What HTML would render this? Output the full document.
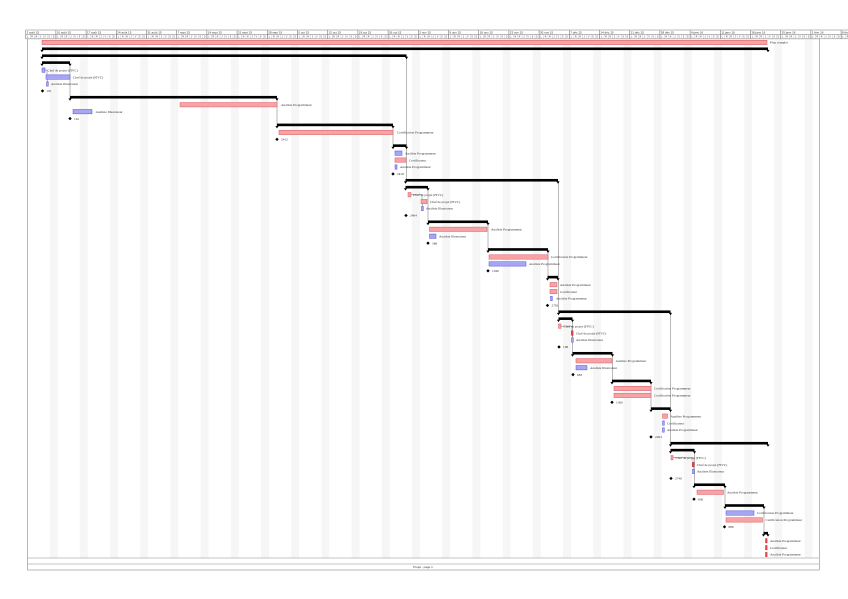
<!DOCTYPE html>
<html><head><meta charset="utf-8"><style>
html,body{margin:0;padding:0;background:#fff;width:848px;height:599px;overflow:hidden}
svg{display:block}
.p{fill:#f7a3a6;stroke:#d85a62;stroke-width:.5}
.b{fill:#a6a6f4;stroke:#5454d6;stroke-width:.5}
.r{fill:#e8474b;stroke:#c02020;stroke-width:.4}
.s{fill:#000}
.t{font-family:"Liberation Serif",serif;font-size:3.4px;fill:#333}
.h{font-family:"Liberation Sans",sans-serif;font-size:3px;fill:#333}
.d{font-family:"Liberation Mono",monospace;font-size:2.5px;fill:#444;letter-spacing:2.81px}
.dep{stroke:#8a8a8a;stroke-width:.6;fill:none}
</style></head><body>
<svg width="848" height="599" viewBox="0 0 848 599" xmlns="http://www.w3.org/2000/svg">
<defs>
<path id="tr" d="M-1.6,0.5 L1.6,0.5 L0,2.9 Z" fill="#000"/>
<path id="dm" d="M0,-1.7 L1.7,0 L0,1.7 L-1.7,0 Z" fill="#000"/>
<pattern id="we" x="49.6" y="0" width="30.2" height="20" patternUnits="userSpaceOnUse"><rect x="0" y="0" width="8" height="20" fill="#f6f6f6"/></pattern>
<pattern id="dt" x="25.7" y="0" width="4.3143" height="20" patternUnits="userSpaceOnUse"><rect x="0" y="0" width="0.35" height="20" fill="#aaa"/></pattern>
</defs>
<rect width="848" height="599" fill="#fff"/>
<!-- header -->
<rect x="25.7" y="30" width="830" height="8.8" fill="#fff"/>
<rect x="25.7" y="34.4" width="830" height="4.3" fill="url(#dt)"/>
<path d="M25.7,30 H848 M25.7,34.4 H848 M25.7,38.8 H848" stroke="#777" stroke-width=".5"/>
<path stroke="#666" stroke-width=".5" d="M25.7,30V38.8 M55.9,30V38.8 M86.1,30V38.8 M116.3,30V38.8 M146.5,30V38.8 M176.7,30V38.8 M206.9,30V38.8 M237.1,30V38.8 M267.3,30V38.8 M297.5,30V38.8 M327.7,30V38.8 M357.9,30V38.8 M388.1,30V38.8 M418.3,30V38.8 M448.5,30V38.8 M478.7,30V38.8 M508.9,30V38.8 M539.1,30V38.8 M569.3,30V38.8 M599.5,30V38.8 M629.7,30V38.8 M659.9,30V38.8 M690.1,30V38.8 M720.3,30V38.8 M750.5,30V38.8 M780.7,30V38.8 M810.9,30V38.8 M841.1,30V38.8"/>
<g class="h">
<text x="26.6" y="33.3">3 août 15</text><text x="56.8" y="33.3">10 août 15</text><text x="87" y="33.3">17 août 15</text><text x="117.2" y="33.3">24 août 15</text><text x="147.4" y="33.3">31 août 15</text><text x="177.6" y="33.3">7 sept 15</text><text x="207.8" y="33.3">14 sept 15</text><text x="238" y="33.3">21 sept 15</text><text x="268.2" y="33.3">28 sept 15</text><text x="298.4" y="33.3">5 oct 15</text><text x="328.6" y="33.3">12 oct 15</text><text x="358.8" y="33.3">19 oct 15</text><text x="389" y="33.3">26 oct 15</text><text x="419.2" y="33.3">2 nov 15</text><text x="449.4" y="33.3">9 nov 15</text><text x="479.6" y="33.3">16 nov 15</text><text x="509.8" y="33.3">23 nov 15</text><text x="540" y="33.3">30 nov 15</text><text x="570.2" y="33.3">7 déc 15</text><text x="600.4" y="33.3">14 déc 15</text><text x="630.6" y="33.3">21 déc 15</text><text x="660.8" y="33.3">28 déc 15</text><text x="691" y="33.3">4 janv 16</text><text x="721.2" y="33.3">11 janv 16</text><text x="751.4" y="33.3">18 janv 16</text><text x="781.6" y="33.3">25 janv 16</text><text x="811.8" y="33.3">1 févr 16</text><text x="842" y="33.3">8 févr 16</text>
</g>
<g class="d">
<text x="27" y="37.7">LMMJVSD</text><text x="57.2" y="37.7">LMMJVSD</text><text x="87.4" y="37.7">LMMJVSD</text><text x="117.6" y="37.7">LMMJVSD</text><text x="147.8" y="37.7">LMMJVSD</text><text x="178" y="37.7">LMMJVSD</text><text x="208.2" y="37.7">LMMJVSD</text><text x="238.4" y="37.7">LMMJVSD</text><text x="268.6" y="37.7">LMMJVSD</text><text x="298.8" y="37.7">LMMJVSD</text><text x="329" y="37.7">LMMJVSD</text><text x="359.2" y="37.7">LMMJVSD</text><text x="389.4" y="37.7">LMMJVSD</text><text x="419.6" y="37.7">LMMJVSD</text><text x="449.8" y="37.7">LMMJVSD</text><text x="480" y="37.7">LMMJVSD</text><text x="510.2" y="37.7">LMMJVSD</text><text x="540.4" y="37.7">LMMJVSD</text><text x="570.6" y="37.7">LMMJVSD</text><text x="600.8" y="37.7">LMMJVSD</text><text x="631" y="37.7">LMMJVSD</text><text x="661.2" y="37.7">LMMJVSD</text><text x="691.4" y="37.7">LMMJVSD</text><text x="721.6" y="37.7">LMMJVSD</text><text x="751.8" y="37.7">LMMJVSD</text><text x="782" y="37.7">LMMJVSD</text><text x="812.2" y="37.7">LMMJVSD</text><text x="842.4" y="37.7">LMMJVSD</text>
</g>
<!-- body -->
<rect x="27.5" y="38.8" width="791.8" height="519.2" fill="url(#we)"/>
<rect x="27.5" y="38.8" width="791.8" height="531.2" fill="none" stroke="#8a8a8a" stroke-width=".6"/>
<path d="M27.5,558 H819.3 M27.5,564 H819.3" stroke="#8a8a8a" stroke-width=".6"/>
<text class="h" x="423" y="568.2" text-anchor="middle">Projet - page 1</text>
<!-- dependency lines -->
<path class="dep" d="M70,63.2V97.8 M277,97.8V125.5 M393,125.5V146.3 M406.5,56.3V180.9 M428,187.8V222.4 M488,222.4V250.1 M548,250.1V277.7 M558.5,180.9V312.3 M572.5,319.3V353.9 M612.5,353.9V381.5 M651,381.5V409.2 M670.5,312.3V443.8 M694.5,450.7V485.3 M725,485.3V506.1 M764,506.1V533.8"/>
<path class="dep" d="M45,70.1H47V74.8 M47.5,77.1V82 M411,194.7H422V199.4 M422.3,201.6V206.4 M561,326.2H572V331 M572.3,333.1V338 M673,457.7H693V462.4 M693.2,464.6V469.4"/>
<!-- rows -->
<g transform="translate(0,42.46)"><rect class="p" x="42" y="-2.2" width="725" height="4.4"/><text class="t" x="770" y="1.2">Plan complet</text></g>
<g transform="translate(0,49.38)"><rect class="s" x="42" y="-1.9" width="726" height="2.6"/><use href="#tr" x="42"/><use href="#tr" x="768"/></g>
<g transform="translate(0,56.3)"><rect class="s" x="42" y="-1.9" width="364.5" height="2.6"/><use href="#tr" x="42"/><use href="#tr" x="406.5"/></g>
<g transform="translate(0,63.22)"><rect class="s" x="42" y="-1.9" width="28" height="2.6"/><use href="#tr" x="42"/><use href="#tr" x="70"/></g>
<g transform="translate(0,70.14)"><rect class="b" x="42" y="-2.2" width="3" height="4.4"/><text class="t" x="47.5" y="1.2">Chef de projet (FIVC)</text></g>
<g transform="translate(0,77.06)"><rect class="b" x="46" y="-2.2" width="24" height="4.4"/><text class="t" x="73" y="1.2">Chef de projet (FIVC)</text></g>
<g transform="translate(0,83.98)"><rect class="b" x="46.5" y="-2.2" width="1.8" height="4.4"/><text class="t" x="51" y="1.2">Analiste Illustrateur</text></g>
<g transform="translate(0,90.9)"><use href="#dm" x="42.5"/><text class="t" x="46.5" y="1.2">161</text></g>
<g transform="translate(0,97.82)"><rect class="s" x="70" y="-1.9" width="207" height="2.6"/><use href="#tr" x="70"/><use href="#tr" x="277"/></g>
<g transform="translate(0,104.74)"><rect class="p" x="180" y="-2.2" width="97" height="4.4"/><text class="t" x="281" y="1.2">Analiste Programmeur</text></g>
<g transform="translate(0,111.66)"><rect class="b" x="73" y="-2.2" width="19" height="4.4"/><text class="t" x="95.5" y="1.2">Analiste Illustrateur</text></g>
<g transform="translate(0,118.58)"><use href="#dm" x="70"/><text class="t" x="74" y="1.2">161</text></g>
<g transform="translate(0,125.5)"><rect class="s" x="277" y="-1.9" width="116" height="2.6"/><use href="#tr" x="277"/><use href="#tr" x="393"/></g>
<g transform="translate(0,132.42)"><rect class="p" x="279" y="-2.2" width="114" height="4.4"/><text class="t" x="397" y="1.2">Certification Programmeur</text></g>
<g transform="translate(0,139.34)"><use href="#dm" x="277"/><text class="t" x="281" y="1.2">2412</text></g>
<g transform="translate(0,146.26)"><rect class="s" x="393" y="-1.9" width="13.5" height="2.6"/><use href="#tr" x="393"/><use href="#tr" x="406.5"/></g>
<g transform="translate(0,153.18)"><rect class="b" x="395" y="-2.2" width="7" height="4.4"/><text class="t" x="405" y="1.2">Analiste Programmeur</text></g>
<g transform="translate(0,160.1)"><rect class="p" x="395" y="-2.2" width="11" height="4.4"/><text class="t" x="409" y="1.2">Certificateur</text></g>
<g transform="translate(0,167.02)"><rect class="b" x="395" y="-2.2" width="2" height="4.4"/><text class="t" x="400" y="1.2">Analiste Programmeur</text></g>
<g transform="translate(0,173.94)"><use href="#dm" x="393"/><text class="t" x="397" y="1.2">2k18</text></g>
<g transform="translate(0,180.86)"><rect class="s" x="405.5" y="-1.9" width="152.5" height="2.6"/><use href="#tr" x="405.5"/><use href="#tr" x="558"/></g>
<g transform="translate(0,187.78)"><rect class="s" x="405.5" y="-1.9" width="22.5" height="2.6"/><use href="#tr" x="405.5"/><use href="#tr" x="428"/></g>
<g transform="translate(0,194.7)"><rect class="p" x="408" y="-2.2" width="3" height="4.4"/><text class="t" x="413" y="1.2">Chef de projet (FIVC)</text></g>
<g transform="translate(0,201.62)"><rect class="p" x="421" y="-2.2" width="6" height="4.4"/><text class="t" x="430" y="1.2">Chef de projet (FIVC)</text></g>
<g transform="translate(0,208.54)"><rect class="b" x="421.5" y="-2.2" width="1.8" height="4.4"/><text class="t" x="426" y="1.2">Analiste Illustrateur</text></g>
<g transform="translate(0,215.46)"><use href="#dm" x="406"/><text class="t" x="410" y="1.2">2464</text></g>
<g transform="translate(0,222.38)"><rect class="s" x="428" y="-1.9" width="60" height="2.6"/><use href="#tr" x="428"/><use href="#tr" x="488"/></g>
<g transform="translate(0,229.3)"><rect class="p" x="429.5" y="-2.2" width="57.5" height="4.4"/><text class="t" x="491" y="1.2">Analiste Programmeur</text></g>
<g transform="translate(0,236.22)"><rect class="b" x="429.5" y="-2.2" width="6.5" height="4.4"/><text class="t" x="439" y="1.2">Analiste Illustrateur</text></g>
<g transform="translate(0,243.14)"><use href="#dm" x="428"/><text class="t" x="432" y="1.2">3h8</text></g>
<g transform="translate(0,250.06)"><rect class="s" x="488" y="-1.9" width="60" height="2.6"/><use href="#tr" x="488"/><use href="#tr" x="548"/></g>
<g transform="translate(0,256.98)"><rect class="p" x="489" y="-2.2" width="59" height="4.4"/><text class="t" x="551" y="1.2">Certification Programmeur</text></g>
<g transform="translate(0,263.9)"><rect class="b" x="489" y="-2.2" width="37" height="4.4"/><text class="t" x="529" y="1.2">Analiste Programmeur</text></g>
<g transform="translate(0,270.82)"><use href="#dm" x="488"/><text class="t" x="492" y="1.2">1046</text></g>
<g transform="translate(0,277.74)"><rect class="s" x="547.5" y="-1.9" width="10.5" height="2.6"/><use href="#tr" x="547.5"/><use href="#tr" x="558"/></g>
<g transform="translate(0,284.66)"><rect class="p" x="550" y="-2.2" width="7" height="4.4"/><text class="t" x="560" y="1.2">Analiste Programmeur</text></g>
<g transform="translate(0,291.58)"><rect class="p" x="550" y="-2.2" width="7" height="4.4"/><text class="t" x="560" y="1.2">Certificateur</text></g>
<g transform="translate(0,298.5)"><rect class="b" x="550.5" y="-2.2" width="1.8" height="4.4"/><text class="t" x="556" y="1.2">Analiste Programmeur</text></g>
<g transform="translate(0,305.42)"><use href="#dm" x="547.5"/><text class="t" x="551.5" y="1.2">2792</text></g>
<g transform="translate(0,312.34)"><rect class="s" x="558.5" y="-1.9" width="112" height="2.6"/><use href="#tr" x="558.5"/><use href="#tr" x="670.5"/></g>
<g transform="translate(0,319.26)"><rect class="s" x="558.5" y="-1.9" width="14" height="2.6"/><use href="#tr" x="558.5"/><use href="#tr" x="572.5"/></g>
<g transform="translate(0,326.18)"><rect class="p" x="558.5" y="-2.2" width="2.5" height="4.4"/><text class="t" x="563.5" y="1.2">Chef de projet (FIVC)</text></g>
<g transform="translate(0,333.1)"><rect class="r" x="571.3" y="-2.2" width="1.8" height="4.4"/><text class="t" x="576" y="1.2">Chef de projet (FIVC)</text></g>
<g transform="translate(0,340.02)"><rect class="b" x="571.5" y="-2.2" width="1.8" height="4.4"/><text class="t" x="576" y="1.2">Analiste Illustrateur</text></g>
<g transform="translate(0,346.94)"><use href="#dm" x="559"/><text class="t" x="563" y="1.2">1h8</text></g>
<g transform="translate(0,353.86)"><rect class="s" x="572.5" y="-1.9" width="40" height="2.6"/><use href="#tr" x="572.5"/><use href="#tr" x="612.5"/></g>
<g transform="translate(0,360.78)"><rect class="p" x="576" y="-2.2" width="36" height="4.4"/><text class="t" x="615.5" y="1.2">Analiste Programmeur</text></g>
<g transform="translate(0,367.7)"><rect class="b" x="576" y="-2.2" width="11" height="4.4"/><text class="t" x="590" y="1.2">Analiste Illustrateur</text></g>
<g transform="translate(0,374.62)"><use href="#dm" x="573"/><text class="t" x="577" y="1.2">683</text></g>
<g transform="translate(0,381.54)"><rect class="s" x="612" y="-1.9" width="39" height="2.6"/><use href="#tr" x="612"/><use href="#tr" x="651"/></g>
<g transform="translate(0,388.46)"><rect class="p" x="614" y="-2.2" width="37" height="4.4"/><text class="t" x="654" y="1.2">Certification Programmeur</text></g>
<g transform="translate(0,395.38)"><rect class="p" x="614" y="-2.2" width="37" height="4.4"/><text class="t" x="654" y="1.2">Certification Programmeur</text></g>
<g transform="translate(0,402.3)"><use href="#dm" x="612"/><text class="t" x="616" y="1.2">1360</text></g>
<g transform="translate(0,409.22)"><rect class="s" x="651" y="-1.9" width="19.5" height="2.6"/><use href="#tr" x="651"/><use href="#tr" x="670.5"/></g>
<g transform="translate(0,416.14)"><rect class="p" x="662.5" y="-2.2" width="5" height="4.4"/><text class="t" x="670.5" y="1.2">Analiste Programmeur</text></g>
<g transform="translate(0,423.06)"><rect class="b" x="662.5" y="-2.2" width="1.8" height="4.4"/><text class="t" x="667" y="1.2">Certificateur</text></g>
<g transform="translate(0,429.98)"><rect class="b" x="662.5" y="-2.2" width="1.8" height="4.4"/><text class="t" x="667" y="1.2">Analiste Programmeur</text></g>
<g transform="translate(0,436.9)"><use href="#dm" x="651"/><text class="t" x="655" y="1.2">2264</text></g>
<g transform="translate(0,443.82)"><rect class="s" x="670.5" y="-1.9" width="97.5" height="2.6"/><use href="#tr" x="670.5"/><use href="#tr" x="768"/></g>
<g transform="translate(0,450.74)"><rect class="s" x="670.5" y="-1.9" width="24" height="2.6"/><use href="#tr" x="670.5"/><use href="#tr" x="694.5"/></g>
<g transform="translate(0,457.66)"><rect class="p" x="671" y="-2.2" width="2" height="4.4"/><text class="t" x="675.5" y="1.2">Chef de projet (FIVC)</text></g>
<g transform="translate(0,464.58)"><rect class="r" x="692.3" y="-2.2" width="1.8" height="4.4"/><text class="t" x="697" y="1.2">Chef de projet (FIVC)</text></g>
<g transform="translate(0,471.5)"><rect class="b" x="692.5" y="-2.2" width="1.8" height="4.4"/><text class="t" x="697" y="1.2">Analiste Illustrateur</text></g>
<g transform="translate(0,478.42)"><use href="#dm" x="671"/><text class="t" x="675" y="1.2">2746</text></g>
<g transform="translate(0,485.34)"><rect class="s" x="694" y="-1.9" width="31" height="2.6"/><use href="#tr" x="694"/><use href="#tr" x="725"/></g>
<g transform="translate(0,492.26)"><rect class="p" x="697" y="-2.2" width="26.5" height="4.4"/><text class="t" x="727" y="1.2">Analiste Programmeur</text></g>
<g transform="translate(0,499.18)"><use href="#dm" x="694"/><text class="t" x="698" y="1.2">836</text></g>
<g transform="translate(0,506.1)"><rect class="s" x="725" y="-1.9" width="39" height="2.6"/><use href="#tr" x="725"/><use href="#tr" x="764"/></g>
<g transform="translate(0,513.02)"><rect class="b" x="726" y="-2.2" width="28" height="4.4"/><text class="t" x="757" y="1.2">Certification Programmeur</text></g>
<g transform="translate(0,519.94)"><rect class="p" x="726" y="-2.2" width="36.5" height="4.4"/><text class="t" x="765.5" y="1.2">Certification Programmeur</text></g>
<g transform="translate(0,526.86)"><use href="#dm" x="724.5"/><text class="t" x="728.5" y="1.2">886</text></g>
<g transform="translate(0,533.78)"><rect class="s" x="763.5" y="-1.9" width="4.5" height="2.6"/><use href="#tr" x="763.5"/><use href="#tr" x="768"/></g>
<g transform="translate(0,540.7)"><rect class="r" x="765.5" y="-2.2" width="1.6" height="4.4"/><text class="t" x="770" y="1.2">Analiste Programmeur</text></g>
<g transform="translate(0,547.62)"><rect class="r" x="765.5" y="-2.2" width="1.6" height="4.4"/><text class="t" x="770" y="1.2">Certificateur</text></g>
<g transform="translate(0,554.54)"><rect class="r" x="765.5" y="-2.2" width="1.6" height="4.4"/><text class="t" x="770" y="1.2">Analiste Programmeur</text></g>
</svg>
</body></html>
